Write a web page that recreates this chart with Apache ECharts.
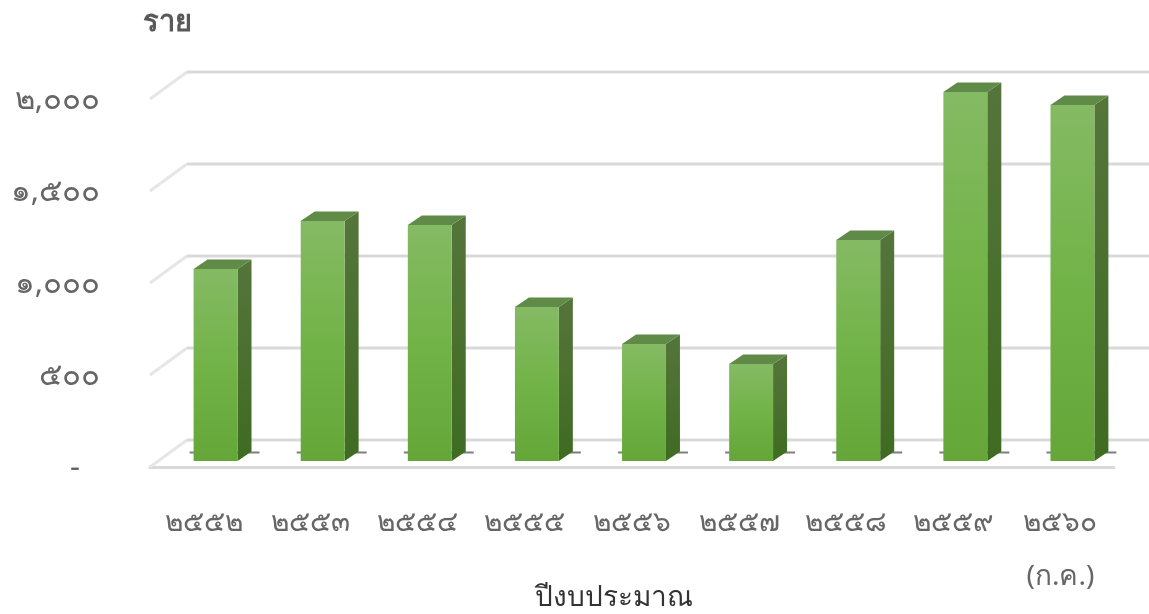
<!DOCTYPE html>
<html lang="th">
<head>
<meta charset="utf-8">
<title>chart</title>
<script src="https://cdn.jsdelivr.net/npm/echarts@6/dist/echarts.min.js"></script>
<style>
  html, body { margin: 0; padding: 0; background: #fff; }
  #chart { width: 1149px; height: 614px; }
</style>
</head>
<body>
<div id="chart"></div>
<script>
const categories = ['๒๕๕๒', '๒๕๕๓', '๒๕๕๔', '๒๕๕๕', '๒๕๕๖', '๒๕๕๗', '๒๕๕๘', '๒๕๕๙', '๒๕๖๐\n(ก.ค.)']
const barValues = [1043, 1304, 1283, 837, 636, 527, 1201, 2005, 1935]
const tickValues = [0, 500, 1000, 1500, 2000]
const tickLabels = ['-', '๕๐๐', '๑,๐๐๐', '๑,๕๐๐', '๒,๐๐๐']

const FONT = '"Noto Sans", "DejaVu Sans", sans-serif'
const chart = echarts.init(document.getElementById('chart'))

// back wall gridlines with the short diagonal on the left
const renderWall = (params, api) => {
  const cs = params.coordSys
  const y = api.coord([0, api.value(0)])[1]
  const x0 = cs.x
  return {
    type: 'group',
    children: [
      {
        type: 'line',
        shape: { x1: x0, y1: y, x2: x0 + 37, y2: y - 27 },
        style: { stroke: '#e6e6e6', lineWidth: 3 }
      },
      {
        type: 'line',
        shape: { x1: x0 + 37, y1: y - 27, x2: x0 + 1000, y2: y - 27 },
        style: { stroke: '#d9d9d9', lineWidth: 3 }
      }
    ]
  }
}

// 3D column: baseline stub, front, side and top faces
const renderBar = (params, api) => {
  const top = api.coord([api.value(0), api.value(1)])
  const base = api.coord([api.value(0), 0])
  const w = api.size([1, 0])[0] * 0.41
  const dx = 14
  const dy = 9.5
  const x = top[0] + 12 - w / 2
  const yTop = top[1] - 6
  const yBase = base[1] - 6
  return {
    type: 'group',
    children: [
      {
        type: 'line',
        shape: { x1: x - 4, y1: yBase - 8.5, x2: x + w + 22, y2: yBase - 8.5 },
        style: { stroke: '#7f7f7f', lineWidth: 2 }
      },
      {
        type: 'polygon',
        shape: { points: [[x + w, yTop], [x + w + dx, yTop - dy], [x + w + dx, yBase - dy], [x + w, yBase]] },
        style: {
          fill: new echarts.graphic.LinearGradient(0, 0, 0, 1, [
            { offset: 0, color: '#55753b' },
            { offset: 1, color: '#3f6b22' }
          ])
        }
      },
      {
        type: 'polygon',
        shape: { points: [[x, yTop], [x + dx, yTop - dy], [x + w + dx, yTop - dy], [x + w, yTop]] },
        style: { fill: '#5f8a47' }
      },
      {
        type: 'rect',
        shape: { x: x, y: yTop, width: w, height: yBase - yTop },
        style: {
          fill: new echarts.graphic.LinearGradient(0, 0, 0, 1, [
            { offset: 0, color: '#85ba64' },
            { offset: 0.5, color: '#72b348' },
            { offset: 1, color: '#65a639' }
          ])
        }
      }
    ]
  }
}

const option = {
  animation: false,
  backgroundColor: '#fff',
  grid: { left: 150, top: 99, width: 964, height: 368, outerBoundsMode: 'none' },
  xAxis: {
    type: 'category',
    data: categories,
    name: 'ปีงบประมาณ',
    nameLocation: 'middle',
    nameMoveOverlap: false,
    nameGap: 117,
    nameTextStyle: { fontFamily: FONT, fontSize: 28, color: '#333', padding: [0, 36, 0, 0] },
    axisLine: { lineStyle: { color: '#d9d9d9', width: 3 } },
    axisTick: { show: false },
    axisLabel: {
      interval: 0,
      margin: 29,
      fontFamily: FONT,
      fontSize: 28,
      lineHeight: 54,
      color: '#666'
    }
  },
  yAxis: {
    type: 'value',
    min: 0,
    max: 2000,
    interval: 500,
    name: 'ราย',
    nameLocation: 'end',
    nameGap: 62,
    nameTextStyle: { fontFamily: FONT, fontSize: 29, fontWeight: 'bold', color: '#595959', align: 'left', padding: [0, 0, 0, -7] },
    axisLine: { show: false },
    axisTick: { show: false },
    splitLine: { show: false },
    axisLabel: {
      margin: 50,
      fontFamily: FONT,
      fontSize: 31,
      color: '#666',
      padding: [3, 0, 0, 0],
      formatter: (v) => {
        const label = tickLabels[tickValues.indexOf(v)]
        return v === 0 ? `{zero|${label}}` : label
      },
      rich: {
        zero: { fontFamily: FONT, fontSize: 31, color: '#666', padding: [0, 20, 0, 0] }
      }
    }
  },
  series: [
    {
      type: 'custom',
      coordinateSystem: 'cartesian2d',
      renderItem: renderWall,
      clip: false,
      silent: true,
      z: 1,
      encode: { y: 0 },
      data: tickValues.map((v) => [v])
    },
    {
      type: 'custom',
      coordinateSystem: 'cartesian2d',
      renderItem: renderBar,
      clip: false,
      z: 3,
      encode: { x: 0, y: 1 },
      data: barValues.map((v, i) => [i, v])
    }
  ]
}

chart.setOption(option)

window.addEventListener('resize', () => chart.resize())
</script>
</body>
</html>
